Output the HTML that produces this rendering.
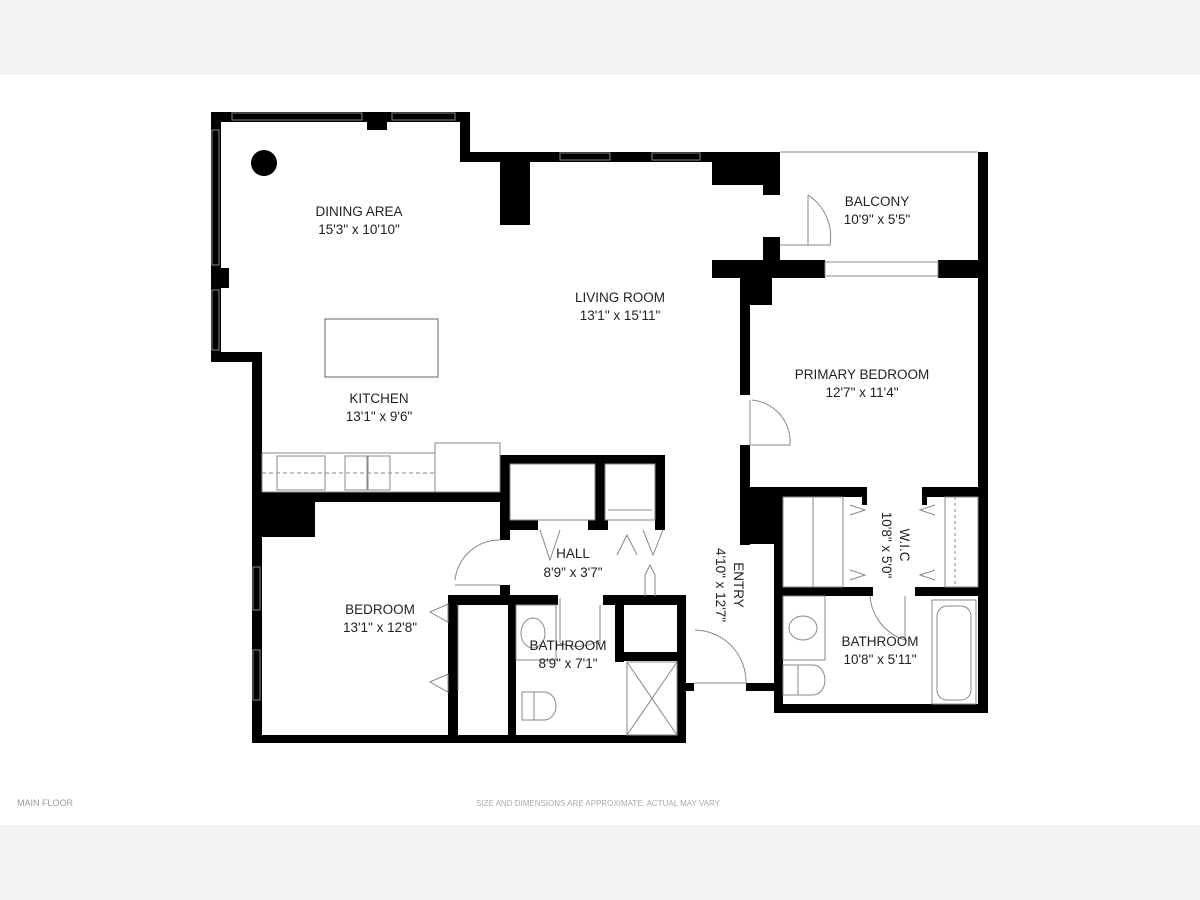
<!DOCTYPE html>
<html><head><meta charset="utf-8"><style>
html,body{margin:0;padding:0;width:1200px;height:900px;overflow:hidden;background:#fff}
.band{position:absolute;left:0;width:1200px;background:#f3f3f5}
svg{position:absolute;left:0;top:0}
text{font-family:"Liberation Sans",sans-serif;font-size:13.5px;fill:#222;text-anchor:middle}
</style></head><body>
<div class="band" style="top:0;height:75px"></div>
<div class="band" style="top:825px;height:75px"></div>
<svg width="1200" height="900" viewBox="0 0 1200 900">
<g fill="#000">
<rect x="211" y="112" width="259" height="10"/>
<rect x="367" y="112" width="20" height="18"/>
<rect x="211" y="112" width="10" height="250"/>
<rect x="211" y="268" width="18" height="20"/>
<rect x="211" y="352" width="51" height="10"/>
<rect x="252" y="352" width="10" height="390"/>
<rect x="460" y="112" width="10" height="50"/>
<rect x="460" y="152" width="320" height="10"/>
<rect x="500" y="152" width="30" height="73"/>
<rect x="712" y="152" width="68" height="33"/>
<rect x="763" y="152" width="17" height="43"/>
<rect x="763" y="237" width="17" height="30"/>
<rect x="978" y="152" width="10" height="561"/>
<rect x="712" y="260" width="113" height="18"/>
<rect x="938" y="260" width="50" height="18"/>
<rect x="740" y="260" width="10" height="135"/>
<rect x="740" y="265" width="32" height="40"/>
<rect x="740" y="445" width="10" height="100"/>
<rect x="740" y="487" width="42" height="57"/>
<rect x="774" y="487" width="9" height="225"/>
<rect x="750" y="487" width="117" height="10"/>
<rect x="922" y="487" width="66" height="10"/>
<rect x="774" y="587" width="99" height="9"/>
<rect x="915" y="587" width="73" height="9"/>
<rect x="774" y="704" width="214" height="9"/>
<rect x="862" y="497" width="5" height="8"/><rect x="922" y="497" width="5" height="8"/>
<rect x="252" y="492" width="248" height="10"/>
<rect x="252" y="492" width="63" height="45"/>
<rect x="252" y="735" width="434" height="8"/>
<rect x="500" y="455" width="165" height="9"/>
<rect x="500" y="455" width="10" height="85"/>
<rect x="655" y="455" width="10" height="75"/>
<rect x="595" y="455" width="10" height="75"/>
<rect x="500" y="520" width="38" height="10"/>
<rect x="588" y="520" width="20" height="10"/>
<rect x="500" y="585" width="10" height="20"/>
<rect x="448" y="595" width="110" height="10"/>
<rect x="603" y="595" width="83" height="10"/>
<rect x="448" y="595" width="10" height="148"/>
<rect x="508" y="595" width="8" height="148"/>
<rect x="448" y="688" width="10" height="55"/>
<rect x="615" y="595" width="9" height="67"/>
<rect x="615" y="652" width="71" height="9"/>
<rect x="677" y="595" width="9" height="148"/>
<rect x="686" y="683" width="8" height="8"/>
<rect x="746" y="683" width="29" height="8"/>
<circle cx="264" cy="163" r="13"/>
</g>
<g fill="none" stroke="#888" stroke-width="1">
<rect x="232" y="113" width="130" height="7"/><rect x="392" y="113" width="63" height="7"/>
<rect x="212" y="130" width="7" height="135"/><rect x="212" y="290" width="7" height="60"/>
<rect x="560" y="153" width="50" height="7"/><rect x="652" y="153" width="48" height="7"/>
<rect x="825" y="262" width="113" height="14"/>
<line x1="780" y1="152" x2="978" y2="152"/>
<rect x="253" y="567" width="7" height="43"/><rect x="253" y="650" width="7" height="50"/>
<rect x="325" y="319" width="113" height="58" stroke="#666"/>
<rect x="262" y="453" width="173" height="39"/>
<rect x="435" y="443" width="65" height="49"/>
<rect x="277" y="456" width="48" height="34"/>
<rect x="345" y="456" width="22" height="34"/><rect x="368" y="456" width="22" height="34"/>
<line x1="262" y1="473" x2="435" y2="473" stroke-dasharray="4,3"/>
<rect x="510" y="464" width="85" height="56"/><rect x="605" y="464" width="50" height="56"/>
<line x1="608" y1="510" x2="652" y2="510"/>
<path d="M808 195 v50 M808 195 A50 50 0 0 1 830 245 H780"/>
<path d="M750 400 v45 h40 A42 42 0 0 0 752 400"/>
<path d="M455 580 A45 45 0 0 1 500 540 M455 585 H500"/>
<path d="M560 598 v45 A45 45 0 0 0 600 640 M600 605 v40"/>
<path d="M695 630 A52 52 0 0 1 746 683 H694"/>
<path d="M870 596 A50 50 0 0 0 905 640 V596"/>
<path d="M617 555 l10 -20 l10 20 M643 530 l10 25 l10 -25"/>
<path d="M540 530 l10 30 l10 -30"/>
<path d="M645 596 V575 l5 -10 l5 10 V596"/>
<path d="M430 612 l18 -8 v18 z M430 682 l18 -8 v18 z"/>
<line x1="458" y1="605" x2="458" y2="690"/>
<rect x="783" y="497" width="30" height="90"/><rect x="813" y="497" width="30" height="90"/>
<rect x="945" y="497" width="33" height="90"/>
<line x1="955" y1="497" x2="955" y2="587" stroke-dasharray="3,3"/>
<path d="M850 505 l15 5 l-15 5 M850 570 l15 5 l-15 5 M935 505 l-15 5 l15 5 M935 570 l-15 5 l15 5"/>
<rect x="516" y="605" width="40" height="55"/>
<ellipse cx="533" cy="633" rx="12" ry="15"/>
<path d="M522 692 h12 v28 h-12 z M534 692 h10 a12 14 0 0 1 0 28 h-10"/>
<rect x="627" y="662" width="50" height="73"/>
<path d="M627 662 L677 735 M677 662 L627 735"/>
<rect x="783" y="596" width="42" height="64"/>
<ellipse cx="803" cy="628" rx="14" ry="12"/>
<path d="M783 665 h15 v30 h-15 z M798 665 h15 a12 15 0 0 1 0 30 h-15"/>
<rect x="932" y="600" width="44" height="104"/>
<rect x="937" y="606" width="34" height="94" rx="10"/>
</g>
<text x="359" y="216">DINING AREA</text>
<text x="359" y="234">15'3" x 10'10"</text>
<text x="620" y="302">LIVING ROOM</text>
<text x="620" y="320">13'1" x 15'11"</text>
<text x="379" y="403">KITCHEN</text>
<text x="379" y="421">13'1" x 9'6"</text>
<text x="877" y="206">BALCONY</text>
<text x="877" y="224">10'9" x 5'5"</text>
<text x="862" y="379">PRIMARY BEDROOM</text>
<text x="862" y="397">12'7" x 11'4"</text>
<text x="573" y="558">HALL</text>
<text x="573" y="577">8'9" x 3'7"</text>
<text x="380" y="614">BEDROOM</text>
<text x="380" y="632">13'1" x 12'8"</text>
<text x="568" y="650">BATHROOM</text>
<text x="568" y="668">8'9" x 7'1"</text>
<text x="880" y="646">BATHROOM</text>
<text x="880" y="664">10'8" x 5'11"</text>
<text transform="translate(734,585) rotate(90)">ENTRY</text>
<text transform="translate(716,585) rotate(90)">4'10" x 12'7"</text>
<text transform="translate(900,545) rotate(90)">W.I.C</text>
<text transform="translate(882,545) rotate(90)">10'8" x 5'0"</text>
<text x="45" y="806" style="font-size:9px;fill:#999">MAIN FLOOR</text>
<text x="598" y="806" style="font-size:8px;fill:#aaa">SIZE AND DIMENSIONS ARE APPROXIMATE, ACTUAL MAY VARY</text>
</svg>
</body></html>
